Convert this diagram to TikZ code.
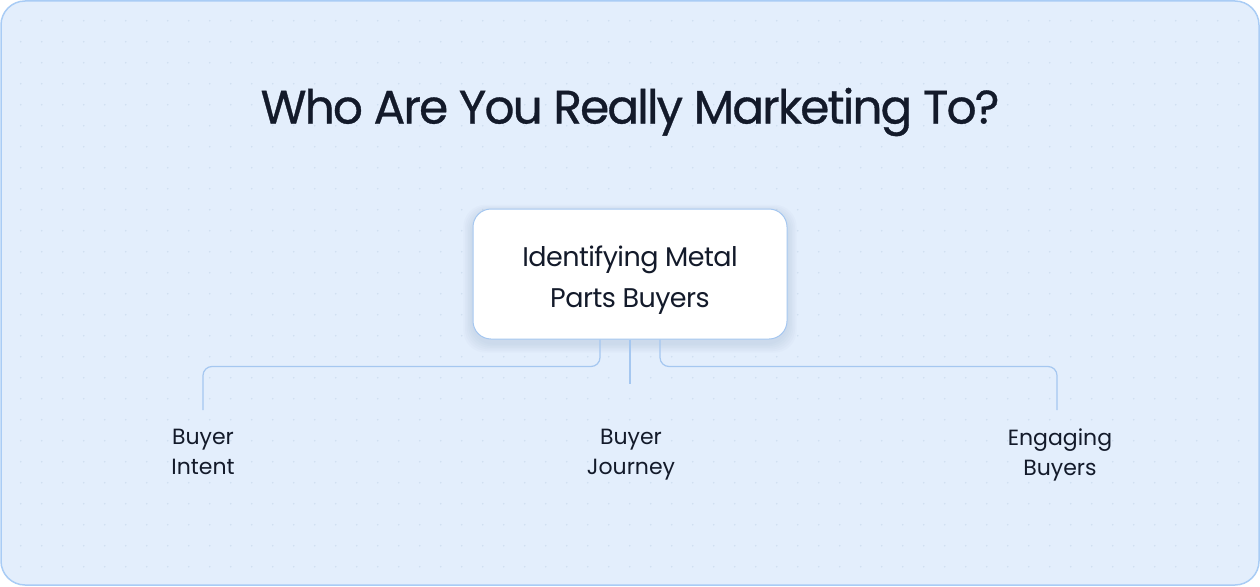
\documentclass[tikz,border=0pt]{standalone}
\usepackage{fontspec}
\setmainfont{Poppins}
\newfontfamily\titlefont[LetterSpace=-4,FakeBold=0.7]{Poppins}
\newfontfamily\boxfont[LetterSpace=-2]{Poppins}
\definecolor{bgfill}{HTML}{E3EEFC}
\definecolor{frameline}{HTML}{A9CCF5}
\definecolor{connline}{HTML}{A5C7F0}
\definecolor{inkdark}{HTML}{131A2A}
\definecolor{dotc}{HTML}{CFDEF0}
\definecolor{shadowc}{HTML}{7A93B8}
\begin{document}
\begin{tikzpicture}[x=1pt,y=-1pt,
  frame/.style={draw=frameline,line width=1.5pt,fill=bgfill,rounded corners=24pt},
  titlestyle/.style={font=\titlefont\fontsize{47}{54}\selectfont,text=inkdark,inner sep=0pt},
  mainbox/.style={draw=connline,line width=1pt,fill=white,rounded corners=18pt,
    minimum width=314pt,minimum height=130pt,align=center,text=inkdark,
    font=\boxfont\fontsize{27}{41}\selectfont},
  shadowlayer/.style={fill=shadowc,fill opacity=0.035,rounded corners=22pt},
  leaf/.style={align=center,text=inkdark,font=\fontsize{22}{30}\selectfont,inner sep=0pt,anchor=north},
  conn/.style={draw=connline,line width=1.2pt,rounded corners=9pt}
]
\useasboundingbox (0,0) rectangle (1260,586);
\path[frame] (1,1) rectangle (1259,585);
\begin{scope}
\clip[rounded corners=24pt] (2,2) rectangle (1258,584);
\foreach \i in {0,...,59}{
  \foreach \j in {0,...,27}{
    \fill[dotc] (20.7+21*\i,20.7+21*\j) circle (0.9);
  }
}
\end{scope}
\foreach \k in {1,...,6}{
  \path[shadowlayer] (473-1.6*\k,212-1.2*\k) rectangle (787+1.6*\k,343+1.6*\k);
}
\node[titlestyle] (title) at (630,112) {Who Are You Really Marketing To?};
\node[mainbox] (main) at (630,274) {\raisebox{-5pt}[\height][\depth]{\begin{tabular}{@{}c@{}}Identifying Metal\\[0pt]Parts Buyers\end{tabular}}};
\node[leaf] (intent) at (203,429) {Buyer\\Intent};
\node[leaf] (journey) at (631,429) {Buyer\\Journey};
\node[leaf] (engaging) at (1060,429) {Engaging\\Buyers};
\coordinate (intentTop) at (203,410);
\coordinate (journeyTop) at (630,384);
\coordinate (engagingTop) at (1057,410);
\draw[conn] ([xshift=-30pt]main.south) -- ++(0,27) -| (intentTop);
\draw[conn] (main.south) -- (journeyTop);
\draw[conn] ([xshift=30pt]main.south) -- ++(0,27) -| (engagingTop);
\end{tikzpicture}
\end{document}
